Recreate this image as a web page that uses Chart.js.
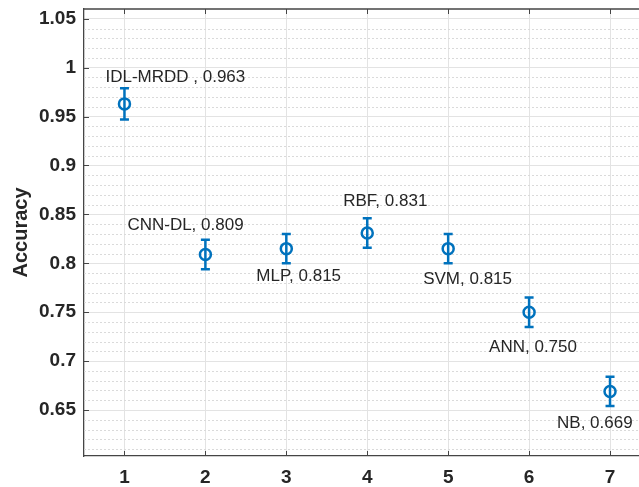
<!DOCTYPE html>
<html>
<head>
<meta charset="utf-8">
<script src="https://cdn.jsdelivr.net/npm/chart.js@4/dist/chart.umd.min.js"></script>
<style>
html,body{margin:0;padding:0;background:#fff;}
canvas{display:block;}
</style>
</head>
<body>
<canvas id="c" width="639" height="487"></canvas>
<script>
// ---- data ----
const categories = [1, 2, 3, 4, 5, 6, 7];
const methods = ["IDL-MRDD", "CNN-DL", "MLP", "RBF", "SVM", "ANN", "NB"];
const accuracy = [0.963, 0.809, 0.815, 0.831, 0.815, 0.750, 0.669];
const errors = [0.016, 0.015, 0.015, 0.015, 0.015, 0.015, 0.015];
const labelTexts = ["IDL-MRDD , 0.963", "CNN-DL, 0.809", "MLP, 0.815", "RBF, 0.831", "SVM, 0.815", "ANN, 0.750", "NB, 0.669"];
const yTickLabels = ["0.65", "0.7", "0.75", "0.8", "0.85", "0.9", "0.95", "1", "1.05"];
const xTickLabels = ["1", "2", "3", "4", "5", "6", "7"];

// ---- label placement (pixel offsets from each point) ----
const labelOffsets = [[-19,-27],[-78,-29],[-30,28],[-24,-32],[-25,31],[-40,35],[-53,32]];

const BLUE = '#0072BD';
const AXIS = '#454545';
const TXT = '#262626';

const decor = {
  id: 'decor',
  beforeDatasetsDraw(chart) {
    const {ctx, chartArea: a, scales: {x, y}} = chart;
    ctx.save();
    // minor dotted grid
    ctx.strokeStyle = '#dadada';
    ctx.lineWidth = 1;
    ctx.setLineDash([2, 2]);
    for (let k = 61; k <= 105; k++) {
      if (k % 5 === 0) continue;
      const py = Math.round(y.getPixelForValue(k / 100)) + 0.5;
      ctx.beginPath(); ctx.moveTo(a.left, py); ctx.lineTo(a.right, py); ctx.stroke();
    }
    ctx.setLineDash([]);
    // error bars
    ctx.strokeStyle = BLUE;
    ctx.lineWidth = 2.5;
    categories.forEach((c, i) => {
      const px = x.getPixelForValue(c);
      const top = y.getPixelForValue(accuracy[i] + errors[i]);
      const bot = y.getPixelForValue(accuracy[i] - errors[i]);
      ctx.beginPath();
      ctx.moveTo(px, top); ctx.lineTo(px, bot);
      ctx.moveTo(px - 4.5, top); ctx.lineTo(px + 4.5, top);
      ctx.moveTo(px - 4.5, bot); ctx.lineTo(px + 4.5, bot);
      ctx.stroke();
    });
    ctx.restore();
  },
  afterDatasetsDraw(chart) {
    const {ctx, chartArea: a, scales: {x, y}} = chart;
    ctx.save();
    // top border
    ctx.strokeStyle = AXIS;
    ctx.lineWidth = 1.3;
    ctx.beginPath(); ctx.moveTo(a.left, a.top); ctx.lineTo(a.right, a.top); ctx.stroke();
    // inward ticks
    ctx.lineWidth = 1;
    categories.forEach(c => {
      const px = Math.round(x.getPixelForValue(c)) + 0.5;
      ctx.beginPath();
      ctx.moveTo(px, a.top); ctx.lineTo(px, a.top + 5);
      ctx.moveTo(px, a.bottom); ctx.lineTo(px, a.bottom - 5);
      ctx.stroke();
    });
    y.ticks.forEach(t => {
      const py = Math.round(y.getPixelForValue(t.value)) + 0.5;
      ctx.beginPath(); ctx.moveTo(a.left, py); ctx.lineTo(a.left + 5, py); ctx.stroke();
    });
    // annotations
    ctx.fillStyle = TXT;
    ctx.font = '17px "Liberation Sans", Arial, sans-serif';
    ctx.textAlign = 'left';
    ctx.textBaseline = 'middle';
    categories.forEach((c, i) => {
      const px = x.getPixelForValue(c);
      const py = y.getPixelForValue(accuracy[i]);
      ctx.fillText(labelTexts[i], px + labelOffsets[i][0], py + labelOffsets[i][1]);
    });
    ctx.restore();
  }
};

function zeroPad(s) { s.paddingTop = 0; s.paddingBottom = 0; s.paddingLeft = 0; s.paddingRight = 0; }

new Chart(document.getElementById('c'), {
  type: 'scatter',
  data: {
    datasets: [{
      data: categories.map((c, i) => ({x: c, y: accuracy[i]})),
      pointStyle: 'circle',
      pointRadius: 5.5,
      pointBorderWidth: 2.5,
      pointBorderColor: BLUE,
      pointBackgroundColor: 'rgba(0,0,0,0)',
      showLine: false,
      clip: false
    }]
  },
  plugins: [decor],
  options: {
    responsive: false,
    animation: false,
    devicePixelRatio: 1,
    layout: {autoPadding: false, padding: {top: 9, left: 0, right: 0, bottom: 0}},
    plugins: {legend: {display: false}, tooltip: {enabled: false}},
    scales: {
      x: {
        type: 'linear',
        min: 0.5, max: 7.358,
        afterFit(s) { s.height = 31; zeroPad(s); },
        ticks: {
          stepSize: 1, includeBounds: false, padding: 10,
          color: TXT,
          font: {family: '"Liberation Sans", Arial, sans-serif', size: 19, weight: 'bold'},
          callback: (v) => { const i = categories.indexOf(v); return i >= 0 ? xTickLabels[i] : ''; }
        },
        grid: {color: '#e3e3e3', lineWidth: 1, drawTicks: false},
        border: {display: true, color: AXIS, width: 1.3}
      },
      y: {
        type: 'linear',
        min: 0.603, max: 1.06,
        afterFit(s) { s.width = 84; zeroPad(s); },
        ticks: {
          stepSize: 0.05, includeBounds: false, padding: 8,
          color: TXT,
          font: {family: '"Liberation Sans", Arial, sans-serif', size: 19, weight: 'bold'},
          callback: (v) => { const s = String(Number(v.toFixed(2))); return yTickLabels.includes(s) ? s : ''; }
        },
        grid: {color: '#e3e3e3', lineWidth: 1, drawTicks: false},
        border: {display: true, color: AXIS, width: 1.3},
        title: {
          display: true, text: 'Accuracy', color: TXT,
          font: {family: '"Liberation Sans", Arial, sans-serif', size: 20, weight: 'bold', lineHeight: 1},
          padding: {top: 11, bottom: 0}
        }
      }
    }
  }
});
</script>
</body>
</html>
